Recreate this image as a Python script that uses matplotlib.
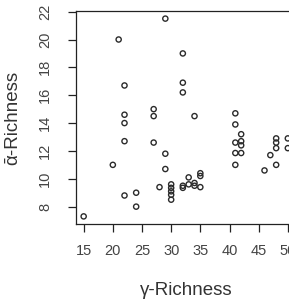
import matplotlib
matplotlib.use("Agg")
import matplotlib.pyplot as plt

gamma = [15, 20, 21, 22, 22, 22, 22, 22, 24, 24, 27, 27, 27, 28, 29, 29, 29,
         30, 30, 30, 30, 30, 32, 32, 32, 32, 32, 33, 33, 34, 34, 34, 35, 35, 35,
         41, 41, 42, 41, 42, 42, 41, 42, 41, 46, 47, 48, 48, 48, 48, 50, 50]
alpha = [7.3, 11.0, 20.0, 16.7, 14.6, 14.0, 12.7, 8.8, 9.0, 8.0, 15.0, 14.5, 12.6, 9.4, 21.5, 11.8, 10.7,
         9.6, 9.35, 9.1, 8.85, 8.5, 19.0, 16.9, 16.2, 9.35, 9.5, 10.1, 9.6, 9.7, 9.5, 14.5, 10.4, 10.2, 9.4,
         14.7, 13.9, 13.2, 12.6, 12.7, 12.4, 11.85, 11.85, 11.0, 10.6, 11.7, 12.9, 12.6, 12.2, 11.0, 12.9, 12.2]
xticks = [15, 20, 25, 30, 35, 40, 45, 50]
yticks = [8, 10, 12, 14, 16, 18, 20, 22]

plt.rcParams['font.family'] = ['Liberation Sans', 'DejaVu Sans']

W, H = 289, 304
fig = plt.figure(figsize=(W / 100, H / 100), dpi=100)
left, right = 75.5 / W, 296 / W
bottom, top = (H - 224.3) / H, (H - 10.7) / H
ax = fig.add_axes([left, bottom, right - left, top - bottom])

ax.scatter(gamma, alpha, s=14, facecolors='none', edgecolors='#2a2a2a', linewidths=1.0)
ax.margins(0.04)
ax.set_xticks(xticks)
ax.set_yticks(yticks)
for sp in ax.spines.values():
    sp.set_linewidth(0.9)
    sp.set_color('#222222')
ax.tick_params(axis='both', length=5.8, width=0.9, color='#222222',
               labelsize=10.5, labelcolor='#444444')
ax.tick_params(axis='x', pad=8.5)
ax.tick_params(axis='y', pad=11, labelrotation=90)
for lab in ax.get_yticklabels():
    lab.set_va('center')

ax.set_xlabel('γ-Richness', fontsize=13.5, color='#333333', labelpad=17)
ax.set_ylabel('ᾱ-Richness', fontsize=13.5, color='#333333', labelpad=12)

fig.savefig('out.png', dpi=100)
